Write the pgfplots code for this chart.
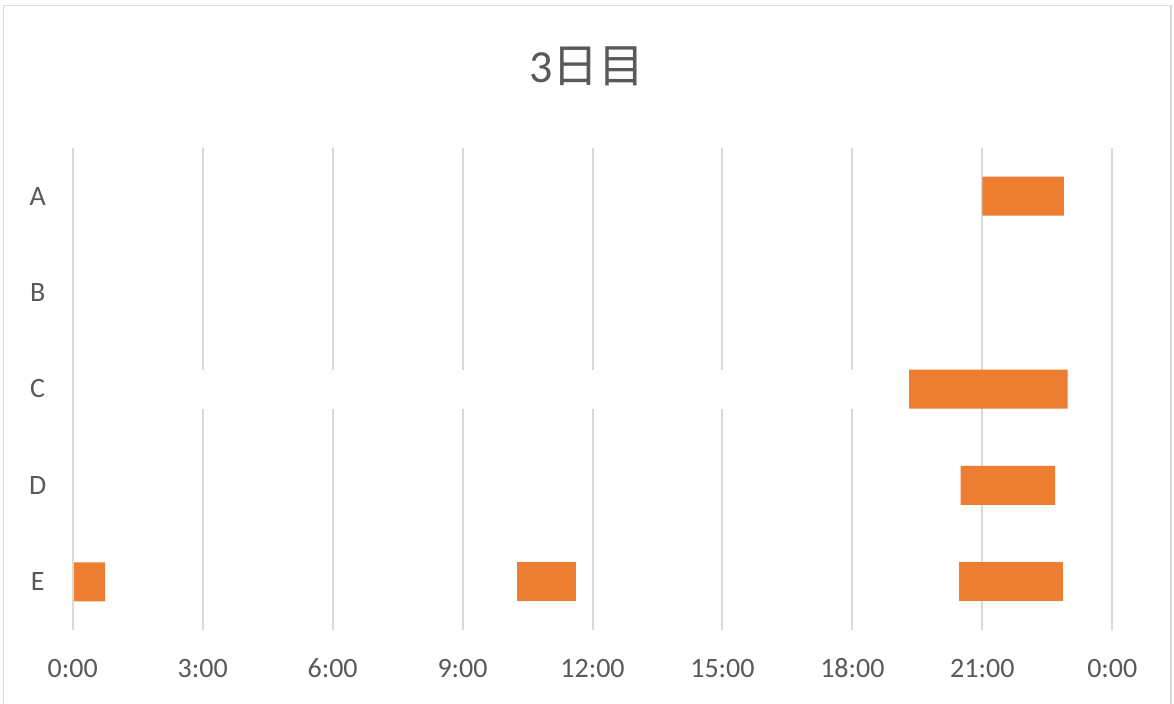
\documentclass[border=0pt]{standalone}
\usepackage{pgfplots}
\pgfplotsset{compat=1.18}
\usepackage{pgfplotstable}
\usepackage{fontspec}
\setmainfont{Carlito}
\newfontfamily\cjk{Noto Sans CJK JP}
\definecolor{txtgray}{HTML}{595959}
\definecolor{gridgray}{HTML}{D9D9D9}
\definecolor{barorange}{HTML}{ED7D31}

% Schedule for day 3, in hours: rows A..E (0..4).
% base/gap columns are spacers, cwhite is the white spacer of row C.
\pgfplotstableread{
row base  cwhite d1   gap1 d2   gap2 d3
0   21.00 0      1.88 0    0    0    0
1   0     0      0    0    0    0    0
2   0     19.30  3.67 0    0    0    0
3   20.50 0      2.18 0    0    0    0
4   0     0      0.75 9.50 1.37 8.83 2.42
}\gantt

\begin{document}
\begin{tikzpicture}
\clip (-36.35bp,-37bp) rectangle (550.65bp,315bp);
\fill[white] (-36.35bp,-37bp) rectangle (550.65bp,315bp);
\draw[gridgray, line width=0.75bp] (-34.6bp,-45bp) rectangle (549.2bp,312.3bp);
\begin{axis}[
  name=gantt,
  at={(0,0)}, anchor=south west,
  scale only axis, width=519.8bp, height=241bp,
  xbar stacked, bar width=19.5bp,
  xmin=0, xmax=24, ymin=-0.5, ymax=4.5,
  y dir=reverse,
  xtick={0,3,...,24},
  xticklabels={0:00,3:00,6:00,9:00,12:00,15:00,18:00,21:00,0:00},
  ytick={0,1,2,3,4},
  yticklabels={A,B,C,D,E},
  xmajorgrids,
  major grid style={gridgray, line width=1bp},
  axis line style={draw=none},
  major tick length=0pt,
  /pgf/number format/assume math mode=true,
  tick label style={font=\fontsize{14bp}{16bp}\selectfont, text=txtgray},
  xticklabel style={anchor=base, yshift=-23.5bp},
  yticklabel style={anchor=center, xshift=-17.5bp},
  title={\fontsize{23bp}{26bp}\selectfont 3{\cjk 日目}},
  title style={at={(0.4947,1)}, anchor=center, yshift=35bp, text=txtgray},
  every axis plot/.append style={draw=none},
]
\addplot[fill=none] table[x=base, y=row] {\gantt};
\addplot[fill=white] table[x=cwhite, y=row] {\gantt};
\addplot[fill=barorange] table[x=d1, y=row] {\gantt};
\addplot[fill=none] table[x=gap1, y=row] {\gantt};
\addplot[fill=barorange] table[x=d2, y=row] {\gantt};
\addplot[fill=none] table[x=gap2, y=row] {\gantt};
\addplot[fill=barorange] table[x=d3, y=row] {\gantt};
\end{axis}
% the vertical axis line at 0:00 stays visible above the bars
\draw[gridgray, line width=1bp] (gantt.south west) -- (gantt.north west);
\end{tikzpicture}
\end{document}
